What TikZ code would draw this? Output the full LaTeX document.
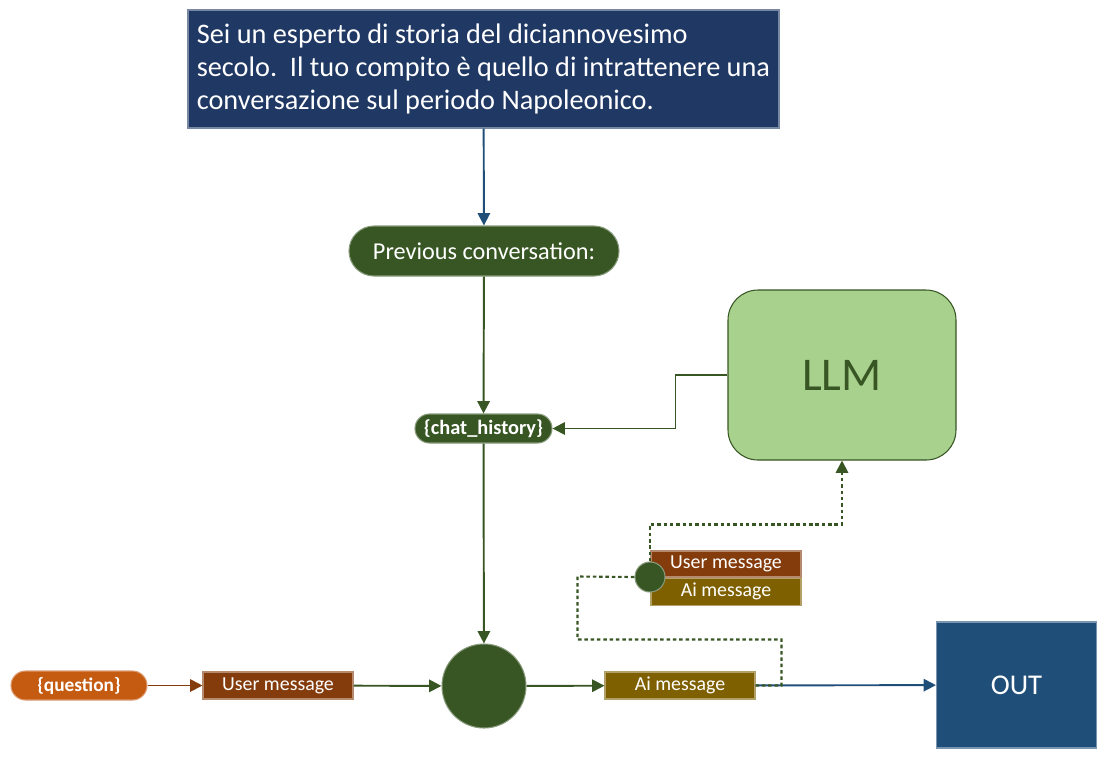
\documentclass[tikz,border=0pt]{standalone}
\usepackage{fontspec}
\setmainfont{Carlito}
\usepackage{xcolor}
\usetikzlibrary{calc,arrows.meta,positioning}

\definecolor{navy}{HTML}{203864}
\definecolor{dkgreen}{HTML}{375623}
\definecolor{ltgreen}{HTML}{A9D18E}
\definecolor{orng}{HTML}{C55A11}
\definecolor{brwn}{HTML}{843C0C}
\definecolor{olive}{HTML}{7F6000}
\definecolor{outblue}{HTML}{1F4E79}

\begin{document}
\begin{tikzpicture}[>={Triangle[length=7pt,width=7pt]}, line/.style={draw=#1, line width=1.1pt}, dotline/.style={draw=dkgreen, line width=1.2pt, dash pattern=on 2pt off 1.6pt}]
% Define styles for blocks, pills and mixers
\tikzstyle{block} = [rectangle, inner sep=0pt, text=white, line width=0.6pt]
\tikzstyle{pill} = [block, minimum height=0.58cm, rounded corners=0.29cm, font=\fontsize{11}{13}\selectfont\bfseries]
\tikzstyle{msg} = [block, minimum width=3cm, minimum height=0.54cm, font=\fontsize{11.3}{13}\selectfont]
\tikzstyle{mixer} = [circle, fill=dkgreen, draw=dkgreen!60!white, line width=0.6pt, inner sep=0pt]

\useasboundingbox (0,0) rectangle (22.16,-15.2);

% Nodes placement
\node [block, fill=navy, draw=navy!60!white, minimum width=11.82cm, minimum height=2.36cm, align=left, font=\fontsize{16.1}{18.7}\selectfont] (system) at (9.67,-1.38) {Sei un esperto di storia del diciannovesimo\\ secolo.\ \ Il tuo compito è quello di intrattenere una\\ conversazione sul periodo Napoleonico.};
\node [pill, fill=dkgreen, draw=dkgreen!60!white, minimum width=5.4cm, minimum height=1cm, rounded corners=0.5cm, font=\fontsize{13.8}{16}\selectfont] (prev) at (9.68,-5.02) {Previous conversation:};
\node [pill, fill=dkgreen, draw=dkgreen!60!white, minimum width=2.74cm, font=\fontsize{11.6}{13}\selectfont\bfseries] (chat) at (9.67,-8.57) {\{chat\_history\}};
\node [block, fill=ltgreen, draw=dkgreen, text=dkgreen, minimum width=4.56cm, minimum height=3.4cm, rounded corners=0.6cm, font=\fontsize{26.7}{30}\selectfont] (llm) at (16.84,-7.5) {LLM};
\node [mixer, minimum size=1.68cm] (merge) at (9.68,-13.72) {};
\node [pill, fill=orng, draw=orng!60!white, minimum width=2.72cm] (question) at (1.58,-13.71) {\{question\}};
\node [msg, fill=brwn, draw=brwn!60!white] (user) at (5.56,-13.71) {User message};
\node [msg, fill=olive, draw=olive!60!white] (ai) at (13.6,-13.71) {Ai message};
\node [block, fill=outblue, draw=outblue!60!white, minimum width=3.2cm, minimum height=2.52cm, font=\fontsize{16.3}{18}\selectfont] (out) at (20.33,-13.7) {OUT};

% History stack
\node [msg, fill=brwn, draw=brwn!60!white, minimum height=0.52cm] (huser) at (14.52,-11.28) {User message};
\node [msg, fill=olive, draw=olive!60!white, below=0pt of huser] (hai) {Ai message};
\node [mixer, minimum size=0.6cm] (hist) at (13.0,-11.54) {};

% Draw edges
\draw[line=outblue,->] (system) -- (prev);
\draw[line=dkgreen,->] (prev) -- (chat);
\draw[line=dkgreen,->] (llm.west) -- ++(-1.04,0) |- (chat.east);
\draw[line=dkgreen,->] (chat) -- (merge);
\draw[line=brwn,->] (question) -- (user);
\draw[line=dkgreen,->] (user) -- (merge);
\draw[line=dkgreen,->] (merge) -- (ai);
\draw[line=outblue,->] (ai) -- (out);

% Memory loop
\draw[dotline] (ai.east) -- ++(0.52,0) -- ++(0,0.92) -| ++(-4.08,1.26) -- (hist.west);
\draw[dotline,-{Triangle[length=7pt,width=7pt,fill=dkgreen]}] (hist.north) -- ++(0,0.74) -| (llm.south);
\end{tikzpicture}
\end{document}
